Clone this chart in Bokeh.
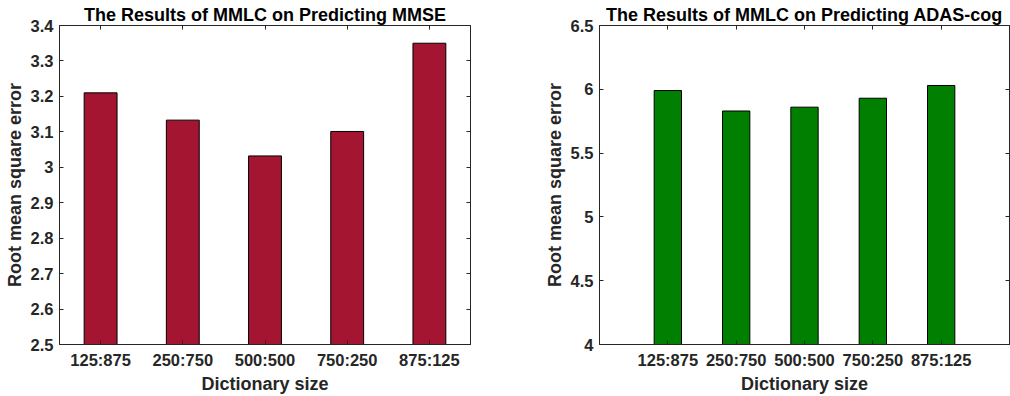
from bokeh.plotting import figure
from bokeh.layouts import row
from bokeh.models import (ColumnDataSource, FactorRange, Range1d, FixedTicker,
                          CategoricalAxis, LinearAxis)
from bokeh.embed import file_html
from bokeh.resources import INLINE

# Dictionary size splits (shared by both panels)
dictionary_sizes = ["125:875", "250:750", "500:500", "750:250", "875:125"]

# Root mean square error when predicting MMSE
rmse_mmse = [3.21, 3.133, 3.032, 3.101, 3.35]
mmse_ticks = [2.5, 2.6, 2.7, 2.8, 2.9, 3.0, 3.1, 3.2, 3.3, 3.4]

# Root mean square error when predicting ADAS-cog
rmse_adas = [5.99, 5.83, 5.86, 5.93, 6.03]
adas_ticks = [4.0, 4.5, 5.0, 5.5, 6.0, 6.5]

FONT = "Liberation Sans"
INK = "#262626"


def style_axis(ax, show_labels=True):
    ax.major_tick_in = 4
    ax.major_tick_out = 0
    ax.minor_tick_in = 0
    ax.minor_tick_out = 0
    ax.axis_line_color = INK
    ax.axis_line_width = 1
    ax.major_tick_line_color = INK
    ax.major_label_text_font = FONT
    ax.major_label_text_font_style = "bold"
    ax.axis_label_text_font = FONT
    ax.axis_label_text_font_style = "bold"
    ax.axis_label_text_color = INK
    ax.axis_label_text_font_size = "18px"
    if show_labels:
        ax.major_label_text_font_size = "16.5px"
        ax.major_label_text_color = INK
    else:
        # tick marks only (box edges)
        ax.major_label_text_color = None
        ax.major_label_text_font_size = "0px"
        ax.major_label_standoff = 0


def bar_panel(title, values, color, ticks, x_pad, border_left, border_right):
    src = ColumnDataSource(dict(size=dictionary_sizes, rmse=values))
    p = figure(
        width=505, height=396,
        x_range=FactorRange(factors=dictionary_sizes, range_padding=x_pad,
                            range_padding_units="absolute"),
        y_range=Range1d(ticks[0], ticks[-1]),
        output_backend="svg", toolbar_location=None,
        min_border_left=border_left, min_border_right=border_right,
        min_border_top=25, min_border_bottom=51,
    )
    p.vbar(x="size", top="rmse", bottom=ticks[0], width=0.4, source=src,
           fill_color=color, line_color="black", line_width=1)

    p.xgrid.visible = False
    p.ygrid.visible = False
    p.outline_line_color = INK
    p.outline_line_width = 1
    p.background_fill_color = "white"
    p.border_fill_color = "white"

    p.title.text = title
    p.title.align = "center"
    p.title.text_font = FONT
    p.title.text_font_style = "bold"
    p.title.text_font_size = "18px"
    p.title.text_color = "black"
    p.title.standoff = 2

    tick_labels = {t: f"{t:g}" for t in ticks}
    p.yaxis.ticker = FixedTicker(ticks=ticks)
    p.yaxis.major_label_overrides = tick_labels
    p.yaxis.axis_label = "Root mean square error"
    p.yaxis.major_label_standoff = 6
    p.yaxis.axis_label_standoff = 3
    p.xaxis.axis_label = "Dictionary size"
    p.xaxis.major_label_standoff = 6
    p.xaxis.axis_label_standoff = 2
    for ax in p.xaxis + p.yaxis:
        style_axis(ax)

    top = CategoricalAxis()
    style_axis(top, show_labels=False)
    p.add_layout(top, "above")

    right = LinearAxis(ticker=FixedTicker(ticks=ticks))
    style_axis(right, show_labels=False)
    p.add_layout(right, "right")
    return p


left = bar_panel("The Results of MMLC on Predicting MMSE", rmse_mmse,
                 "#A31530", mmse_ticks, 0.0, 59, 35)
right = bar_panel("The Results of MMLC on Predicting ADAS-cog", rmse_adas,
                  "#007F00", adas_ticks, 0.5, 94, 1)

layout = row(left, right)
open("out.html", "w").write(file_html(layout, INLINE))
